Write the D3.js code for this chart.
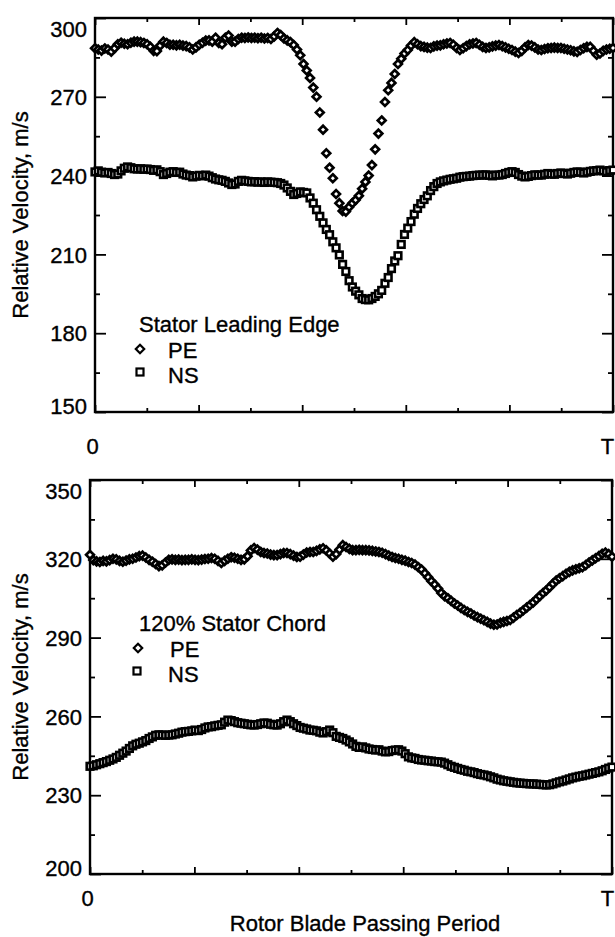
<!DOCTYPE html>
<html>
<head>
<meta charset="utf-8">
<script src="https://cdn.jsdelivr.net/npm/d3@7"></script>
<style>
  html, body { margin: 0; padding: 0; background: #fff; }
  svg { display: block; }
  text { font-family: "Liberation Sans", Arial, Helvetica, sans-serif; fill: #000; stroke: #000; stroke-width: 0.35px; }
</style>
</head>
<body>
<svg id="chart" width="615" height="937"></svg>
<script>
// ---------------- DATA ----------------
const nSamples = 160; // samples over one rotor blade passing period (0 .. T)
const xTickValues = [0, 1];
const xTickLabels = ["0", "T"];

const topYTicks = [150, 180, 210, 240, 270, 300];
const bottomYTicks = [200, 230, 260, 290, 320, 350];

const topTitle = "Stator Leading Edge";
const bottomTitle = "120% Stator Chord";
const seriesNames = ["PE", "NS"];
const yAxisTitle = "Relative Velocity, m/s";
const xAxisTitle = "Rotor Blade Passing Period";

// Stator leading edge, PE (diamonds)
const topPE = [
288.5,288.0,287.6,288.4,288.0,287.2,288.5,290.0,290.6,290.2,
290.0,290.6,291.0,291.0,290.8,290.5,290.0,289.0,287.5,287.4,
289.5,291.0,290.5,289.8,289.8,289.6,289.8,289.5,289.3,288.8,
288.0,288.8,289.8,290.6,291.4,291.5,291.0,292.5,290.5,290.0,
292.5,293.3,291.0,291.0,292.0,292.5,292.4,292.6,292.4,292.5,
292.3,292.5,292.2,292.4,292.0,293.0,294.3,293.5,292.2,291.5,
290.8,289.7,288.0,285.8,282.5,280.0,277.2,273.5,270.0,264.0,
257.5,248.5,243.0,239.0,233.0,229.5,226.5,226.3,228.0,229.5,
230.7,232.3,235.0,237.6,240.0,244.0,250.0,256.0,261.0,268.0,
272.5,275.3,278.7,282.5,284.5,286.5,287.8,289.5,290.8,290.0,
289.3,289.0,288.7,288.6,289.2,289.5,289.6,290.0,290.3,290.5,
289.8,288.6,287.8,288.5,289.3,290.0,290.3,290.5,289.8,289.0,
288.6,288.8,289.2,289.5,289.7,289.3,288.8,288.3,287.8,287.2,
286.7,287.5,288.8,289.7,289.5,288.8,288.0,287.8,288.2,288.5,
288.6,288.7,288.6,288.6,288.3,288.0,287.7,287.3,287.1,287.8,
288.5,289.0,289.0,287.5,286.0,286.5,287.5,288.0,288.3,288.6
];

// Stator leading edge, NS (squares)
const topNS = [
241.4,241.8,241.3,241.0,241.2,240.8,240.4,240.6,241.8,242.8,
243.3,243.0,242.6,242.5,242.6,242.4,242.5,242.3,242.0,242.2,
241.5,240.4,240.8,241.3,241.5,241.2,241.3,240.6,240.2,240.0,
239.5,239.8,240.1,239.9,240.2,239.8,239.2,238.7,238.4,238.2,
237.8,237.2,236.6,236.8,237.8,238.2,238.0,237.8,237.6,237.7,
237.5,237.6,237.4,237.6,237.5,237.4,237.3,237.0,236.4,235.3,
234.0,232.8,233.2,233.8,233.6,233.4,231.5,229.5,227.0,224.5,
222.0,219.5,217.5,214.8,212.5,209.8,206.2,203.5,200.0,197.6,
196.0,194.6,193.2,192.8,192.7,193.2,194.0,195.0,196.3,199.0,
201.2,204.6,207.5,209.5,213.8,217.6,220.0,222.5,225.3,227.5,
229.3,230.9,232.3,234.3,235.8,237.0,237.6,238.0,238.3,238.6,
238.8,239.0,239.4,239.6,239.7,239.8,240.0,240.1,240.2,240.2,
240.3,240.1,239.9,240.2,240.2,240.4,240.8,241.2,241.5,241.2,
240.4,239.8,239.5,239.7,240.0,240.3,240.2,240.2,240.5,240.8,
240.6,240.5,240.8,241.0,240.8,240.6,240.9,241.2,241.4,241.3,
241.0,241.3,241.6,241.8,241.9,242.1,241.8,241.5,241.9,242.1
];

// 120% stator chord, PE (diamonds)
const bottomPE = [
321.5,319.5,319.0,318.8,319.2,319.0,319.5,320.0,319.8,319.2,
318.9,319.3,319.8,320.0,320.5,321.0,321.2,320.5,319.6,318.9,
318.0,317.2,317.5,318.6,319.6,319.8,319.6,319.7,319.5,319.6,
319.6,319.8,319.6,319.5,319.7,319.9,320.0,320.3,320.0,319.2,
318.4,319.2,320.0,320.6,320.4,320.0,319.6,319.8,321.0,323.2,
324.1,323.5,322.6,322.2,322.0,321.6,321.4,321.4,321.8,322.2,
322.2,321.8,321.2,320.7,320.8,321.6,322.4,322.6,322.6,323.0,
323.6,324.0,323.2,322.0,320.8,321.8,323.5,325.2,324.5,323.8,
323.3,323.3,323.4,323.3,323.3,323.2,323.0,322.8,322.6,322.3,
321.8,321.2,320.7,320.3,320.0,319.6,319.3,318.8,318.4,317.8,
316.8,315.9,314.5,313.0,311.5,310.2,308.7,307.0,305.8,305.0,
304.0,303.0,302.2,301.3,300.5,299.8,299.2,298.4,297.8,297.2,
296.6,296.0,295.3,294.9,295.0,295.6,296.0,296.3,296.7,297.6,
298.6,299.4,300.4,301.4,302.4,303.4,304.6,305.8,307.0,308.0,
309.2,310.5,311.7,312.6,313.4,314.3,315.0,315.6,316.0,316.4,
316.8,317.6,318.6,319.4,320.2,321.0,321.9,322.4,321.8,320.8
];

// 120% stator chord, NS (squares)
const bottomNS = [
241.0,241.2,241.6,242.0,242.4,242.8,243.3,243.8,244.4,245.2,
246.0,246.8,247.8,248.8,249.4,249.8,250.3,250.8,251.6,252.2,
252.8,253.0,252.9,252.8,252.9,253.0,253.3,253.6,254.0,254.2,
254.3,254.5,254.8,254.6,255.0,255.6,256.0,256.1,256.4,256.6,
256.8,257.8,258.6,258.4,258.0,257.6,257.4,257.2,257.0,256.8,
256.7,256.9,257.2,257.5,257.4,257.0,256.8,256.7,257.2,258.0,
258.6,258.0,257.2,256.5,255.8,255.5,255.2,254.8,254.7,254.5,
254.0,253.7,254.2,254.8,253.8,252.4,252.0,251.6,251.0,250.3,
249.5,248.6,248.2,248.4,248.0,247.6,247.4,247.2,247.3,246.8,
246.5,246.6,247.0,247.2,247.3,246.8,245.8,244.6,244.2,244.0,
243.6,243.4,243.3,243.1,243.0,242.8,242.7,242.6,242.2,241.6,
241.0,240.6,240.2,239.8,239.5,239.1,238.9,238.6,238.2,237.9,
237.7,237.4,237.0,236.6,236.1,235.8,235.5,235.3,235.1,234.9,
234.7,234.6,234.5,234.4,234.3,234.3,234.2,234.1,234.0,233.9,
234.0,234.3,234.7,235.1,235.4,235.8,236.2,236.6,236.9,237.2,
237.4,237.7,238.0,238.3,238.6,238.9,239.3,239.8,240.3,240.7
];

// ---------------- DRAW ----------------
const svg = d3.select("#chart");
const FONT = 22;
const phase = d3.range(nSamples).map(i => i / (nSamples - 1));

const panels = [
  { box: {l: 95, r: 613, t: 18, b: 412}, yDomain: [150, 300], yTicks: topYTicks,
    pe: topPE, ns: topNS, title: topTitle,
    legend: {x: 139, y: 332}, xLabelPad: 26, yTitleCenter: 215 },
  { box: {l: 90, r: 612, t: 480, b: 874}, yDomain: [200, 350], yTicks: bottomYTicks,
    pe: bottomPE, ns: bottomNS, title: bottomTitle,
    legend: {x: 139, y: 631}, xLabelPad: 16, yTitleCenter: 677 }
];

const diamond = r => `M0,${-r}L${r},0L0,${r}L${-r},0Z`;

panels.forEach((p, pi) => {
  const x = d3.scaleLinear().domain([0, 1]).range([p.box.l, p.box.r]);
  const y = d3.scaleLinear().domain(p.yDomain).range([p.box.b, p.box.t]);
  const g = svg.append("g");

  const minorY = d3.range(p.yDomain[0], p.yDomain[1] + 0.1, 15);
  const minorX = d3.range(0, 1.0001, 0.1);
  const majorX = d3.range(0, 1.0001, 0.2);

  // ticks (inward), left & right
  const yAxisL = d3.axisLeft(y).tickValues(p.yTicks).tickSize(-11).tickPadding(8).tickFormat(d3.format("d"));
  const gL = g.append("g").attr("transform", `translate(${p.box.l},0)`).call(yAxisL);
  gL.select(".domain").remove();
  gL.selectAll("text").style("font-size", FONT + "px")
    .attr("dy", (d, i) => d === p.yDomain[1] ? "0.85em" : (d === p.yDomain[0] ? "0.05em" : "0.35em"));
  g.append("g").attr("transform", `translate(${p.box.l},0)`)
    .call(d3.axisLeft(y).tickValues(minorY.filter(v => !p.yTicks.includes(v))).tickSize(-5).tickFormat(""))
    .select(".domain").remove();
  const gR = g.append("g").attr("transform", `translate(${p.box.r},0)`)
    .call(d3.axisRight(y).tickValues(p.yTicks).tickSize(-11).tickFormat(""));
  gR.select(".domain").remove();
  g.append("g").attr("transform", `translate(${p.box.r},0)`)
    .call(d3.axisRight(y).tickValues(minorY.filter(v => !p.yTicks.includes(v))).tickSize(-5).tickFormat(""))
    .select(".domain").remove();

  // x ticks bottom & top (inward)
  [[d3.axisBottom, p.box.b], [d3.axisTop, p.box.t]].forEach(([ax, yy]) => {
    g.append("g").attr("transform", `translate(0,${yy})`)
      .call(ax(x).tickValues(majorX).tickSize(-7).tickFormat(""))
      .select(".domain").remove();
    g.append("g").attr("transform", `translate(0,${yy})`)
      .call(ax(x).tickValues(minorX.filter((v, i) => i % 2 === 1)).tickSize(-4).tickFormat(""))
      .select(".domain").remove();
  });
  // x tick labels 0 and T
  const gX = g.append("g").attr("transform", `translate(0,${p.box.b})`)
    .call(d3.axisBottom(x).tickValues(xTickValues).tickSize(0).tickPadding(p.xLabelPad)
      .tickFormat((d, i) => xTickLabels[i]));
  gX.select(".domain").remove();
  gX.selectAll("text").style("font-size", FONT + "px")
    .attr("dx", (d) => d === 0 ? "-3" : (pi === 0 ? "-6" : "-5"));

  g.selectAll(".tick line").attr("stroke", "#000").attr("stroke-width", 1.8);

  // frame
  g.append("rect").attr("x", p.box.l).attr("y", p.box.t)
    .attr("width", p.box.r - p.box.l).attr("height", p.box.b - p.box.t)
    .attr("fill", "none").attr("stroke", "#000").attr("stroke-width", 2.4);

  // data markers
  const ns = p.ns.map((v, i) => ({t: phase[i], v}));
  const pe = p.pe.map((v, i) => ({t: phase[i], v}));
  const sq = 6.6;
  g.append("g").selectAll("rect").data(ns).join("rect")
    .attr("x", d => x(d.t) - sq / 2).attr("y", d => y(d.v) - sq / 2)
    .attr("width", sq).attr("height", sq)
    .attr("fill", "#fff").attr("stroke", "#000").attr("stroke-width", 2.6);
  g.append("g").selectAll("path").data(pe).join("path")
    .attr("transform", d => `translate(${x(d.t)},${y(d.v)})`)
    .attr("d", diamond(3.9))
    .attr("fill", "#fff").attr("stroke", "#000").attr("stroke-width", 2.7);

  // legend
  const lg = g.append("g").attr("transform", `translate(${p.legend.x},${p.legend.y})`);
  lg.append("text").attr("x", 0).attr("y", 0).style("font-size", FONT + "px").text(p.title);
  lg.append("path").attr("transform", `translate(${pi === 0 ? 1 : -1},17)`).attr("d", diamond(4.2))
    .attr("fill", "#fff").attr("stroke", "#000").attr("stroke-width", 2.2);
  lg.append("text").attr("x", pi === 0 ? 29 : 31).attr("y", 26).style("font-size", FONT + "px").text(seriesNames[0]);
  lg.append("rect").attr("x", (pi === 0 ? 1 : -2) - 3.5).attr("y", 40 - 3.5).attr("width", 7).attr("height", 7)
    .attr("fill", "#fff").attr("stroke", "#000").attr("stroke-width", 2.2);
  lg.append("text").attr("x", 29).attr("y", 51).style("font-size", FONT + "px").text(seriesNames[1]);

  // y-axis title
  svg.append("text")
    .attr("transform", `translate(28,${p.yTitleCenter}) rotate(-90)`)
    .attr("text-anchor", "middle").style("font-size", FONT + "px")
    .text(yAxisTitle);
});

// x-axis title
svg.append("text").attr("x", 365).attr("y", 931).attr("text-anchor", "middle")
  .style("font-size", FONT + "px").text(xAxisTitle);
</script>
</body>
</html>
